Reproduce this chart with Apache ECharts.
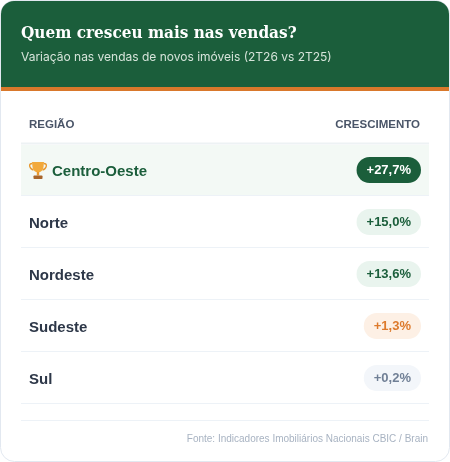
<!DOCTYPE html>
<html><head><meta charset="utf-8">
<script src="https://cdn.jsdelivr.net/npm/echarts@6/dist/echarts.min.js"></script>
<style>html,body{margin:0;padding:0;background:#fff}#c{width:450px;height:462px}</style>
</head><body><div id="c"></div>
<script>
const titleText = 'Quem cresceu mais nas vendas?';
const subtitleText = 'Variação nas vendas de novos imóveis (2T26 vs 2T25)';
const colHeaders = ['REGIÃO', 'CRESCIMENTO'];
const regions = ['Centro-Oeste', 'Norte', 'Nordeste', 'Sudeste', 'Sul'];
const growth = [27.7, 15.0, 13.6, 1.3, 0.2];
const sourceText = 'Fonte: Indicadores Imobiliários Nacionais CBIC / Brain';

const SANS = "'Liberation Sans', Arial, sans-serif";
const tierStyle = [
  {bg:'#1b5e3b', fg:'#ffffff'},
  {bg:'#e9f4ee', fg:'#1b5e3b'},
  {bg:'#e9f4ee', fg:'#1b5e3b'},
  {bg:'#fdf0e5', fg:'#dd7a2c'},
  {bg:'#f3f6fa', fg:'#718096'}
];
function fmt(v){ return (v>=0?'+':'') + v.toFixed(1).replace('.', ',') + '%'; }

const chart = echarts.init(document.getElementById('c'), null, {renderer:'canvas'});
chart.setOption({
  animation:false,
  grid:{left:21, right:21, top:144, height:260},
  xAxis:{type:'value', min:0, max:30, show:false},
  yAxis:{type:'category', data:regions, inverse:true, show:false},
  graphic:[
    {type:'rect', z:-10, shape:{x:0.5,y:0.5,width:449,height:461,r:14}, style:{fill:'#fff', stroke:'#e2e8f0', lineWidth:1}},
    {type:'rect', z:-9, shape:{x:1,y:1,width:448,height:87,r:[13,13,0,0]}, style:{fill:'#1b5e3b'}},
    {type:'rect', z:-9, shape:{x:1,y:87,width:448,height:4}, style:{fill:'#d9782b'}},
    {type:'text', x:21, y:34, style:{text:titleText, fill:'#fff', font:"bold 17px 'DejaVu Serif Condensed', 'DejaVu Serif', serif", verticalAlign:'middle'}},
    {type:'text', x:21, y:57, style:{text:subtitleText, fill:'#d6e4da', font:"12px Inter, sans-serif", verticalAlign:'middle'}},
    {type:'text', x:29, y:125, style:{text:colHeaders[0], fill:'#4a5568', font:"bold 11.5px "+SANS, verticalAlign:'middle'}},
    {type:'text', x:420, y:125, style:{text:colHeaders[1], fill:'#4a5568', font:"bold 11.5px "+SANS, verticalAlign:'middle', align:'right'}},
    {type:'rect', shape:{x:21,y:142.5,width:408,height:2}, style:{fill:'#edf2f4'}},
    {type:'line', shape:{x1:21,y1:420.5,x2:429,y2:420.5}, style:{stroke:'#edf2f7', lineWidth:1}},
    {type:'text', x:428, y:439, style:{text:sourceText, fill:'#a8b3c2', font:"10px "+SANS, verticalAlign:'middle', align:'right'}}
  ],
  series:[{
    type:'custom',
    data: regions.map((r,i)=>[i, growth[i]]),
    renderItem:function(params, api){
      const idx = api.value(0), val = api.value(1);
      const p = api.coord([0, idx]);
      const h = api.size([0,1])[1];
      const cs = params.coordSys;
      const top = p[1] - h/2, yc = p[1];
      const st = tierStyle[idx];
      const ch = [];
      if (idx === 0) {
        ch.push({type:'rect', shape:{x:cs.x, y:top+1, width:cs.width, height:h-1}, style:{fill:'#f3f9f5'}});
        // trophy icon
        const tx = 29, ty = yc - 9;
        ch.push({type:'path', shape:{pathData:
          'M'+(tx+3)+' '+(ty+1)+' L'+(tx+15)+' '+(ty+1)+' L'+(tx+14.5)+' '+(ty+6)+' Q'+(tx+13.5)+' '+(ty+11)+' '+(tx+9)+' '+(ty+11.5)+' Q'+(tx+4.5)+' '+(ty+11)+' '+(tx+3.5)+' '+(ty+6)+' Z'},
          style:{fill:'#f2a93b'}});
        ch.push({type:'path', shape:{pathData:
          'M'+(tx+3.2)+' '+(ty+2.5)+' Q'+(tx)+' '+(ty+2.5)+' '+(tx+0.8)+' '+(ty+5.5)+' Q'+(tx+1.8)+' '+(ty+8.5)+' '+(tx+4.5)+' '+(ty+9)+
          ' M'+(tx+14.8)+' '+(ty+2.5)+' Q'+(tx+18)+' '+(ty+2.5)+' '+(tx+17.2)+' '+(ty+5.5)+' Q'+(tx+16.2)+' '+(ty+8.5)+' '+(tx+13.5)+' '+(ty+9)},
          style:{fill:'none', stroke:'#e8982e', lineWidth:1.4}});
        ch.push({type:'rect', shape:{x:tx+7.8, y:ty+11, width:2.4, height:3.5}, style:{fill:'#e8982e'}});
        ch.push({type:'rect', shape:{x:tx+4.5, y:ty+14.5, width:9, height:3.5, r:0.8}, style:{fill:'#a8652a'}});
      }
      ch.push({type:'line', shape:{x1:cs.x, y1:top+h-0.5, x2:cs.x+cs.width, y2:top+h-0.5}, style:{stroke:'#edf2f7', lineWidth:1}});
      ch.push({type:'text', x: idx===0 ? 52 : 29, y: yc+1.5, style:{
        text: regions[idx], fill: idx===0 ? '#1b5e3b' : '#2d3748',
        font: "bold 15px "+SANS, verticalAlign:'middle'}});
      ch.push({type:'text', x: cs.x + cs.width - 8, y: yc, style:{
        text: fmt(val), fill: st.fg, font:"bold 13px "+SANS,
        align:'right', verticalAlign:'middle', lineHeight:14,
        backgroundColor: st.bg, borderRadius:13, padding:[6,10,6,10]}});
      return {type:'group', children:ch};
    }
  }]
});
</script></body></html>
